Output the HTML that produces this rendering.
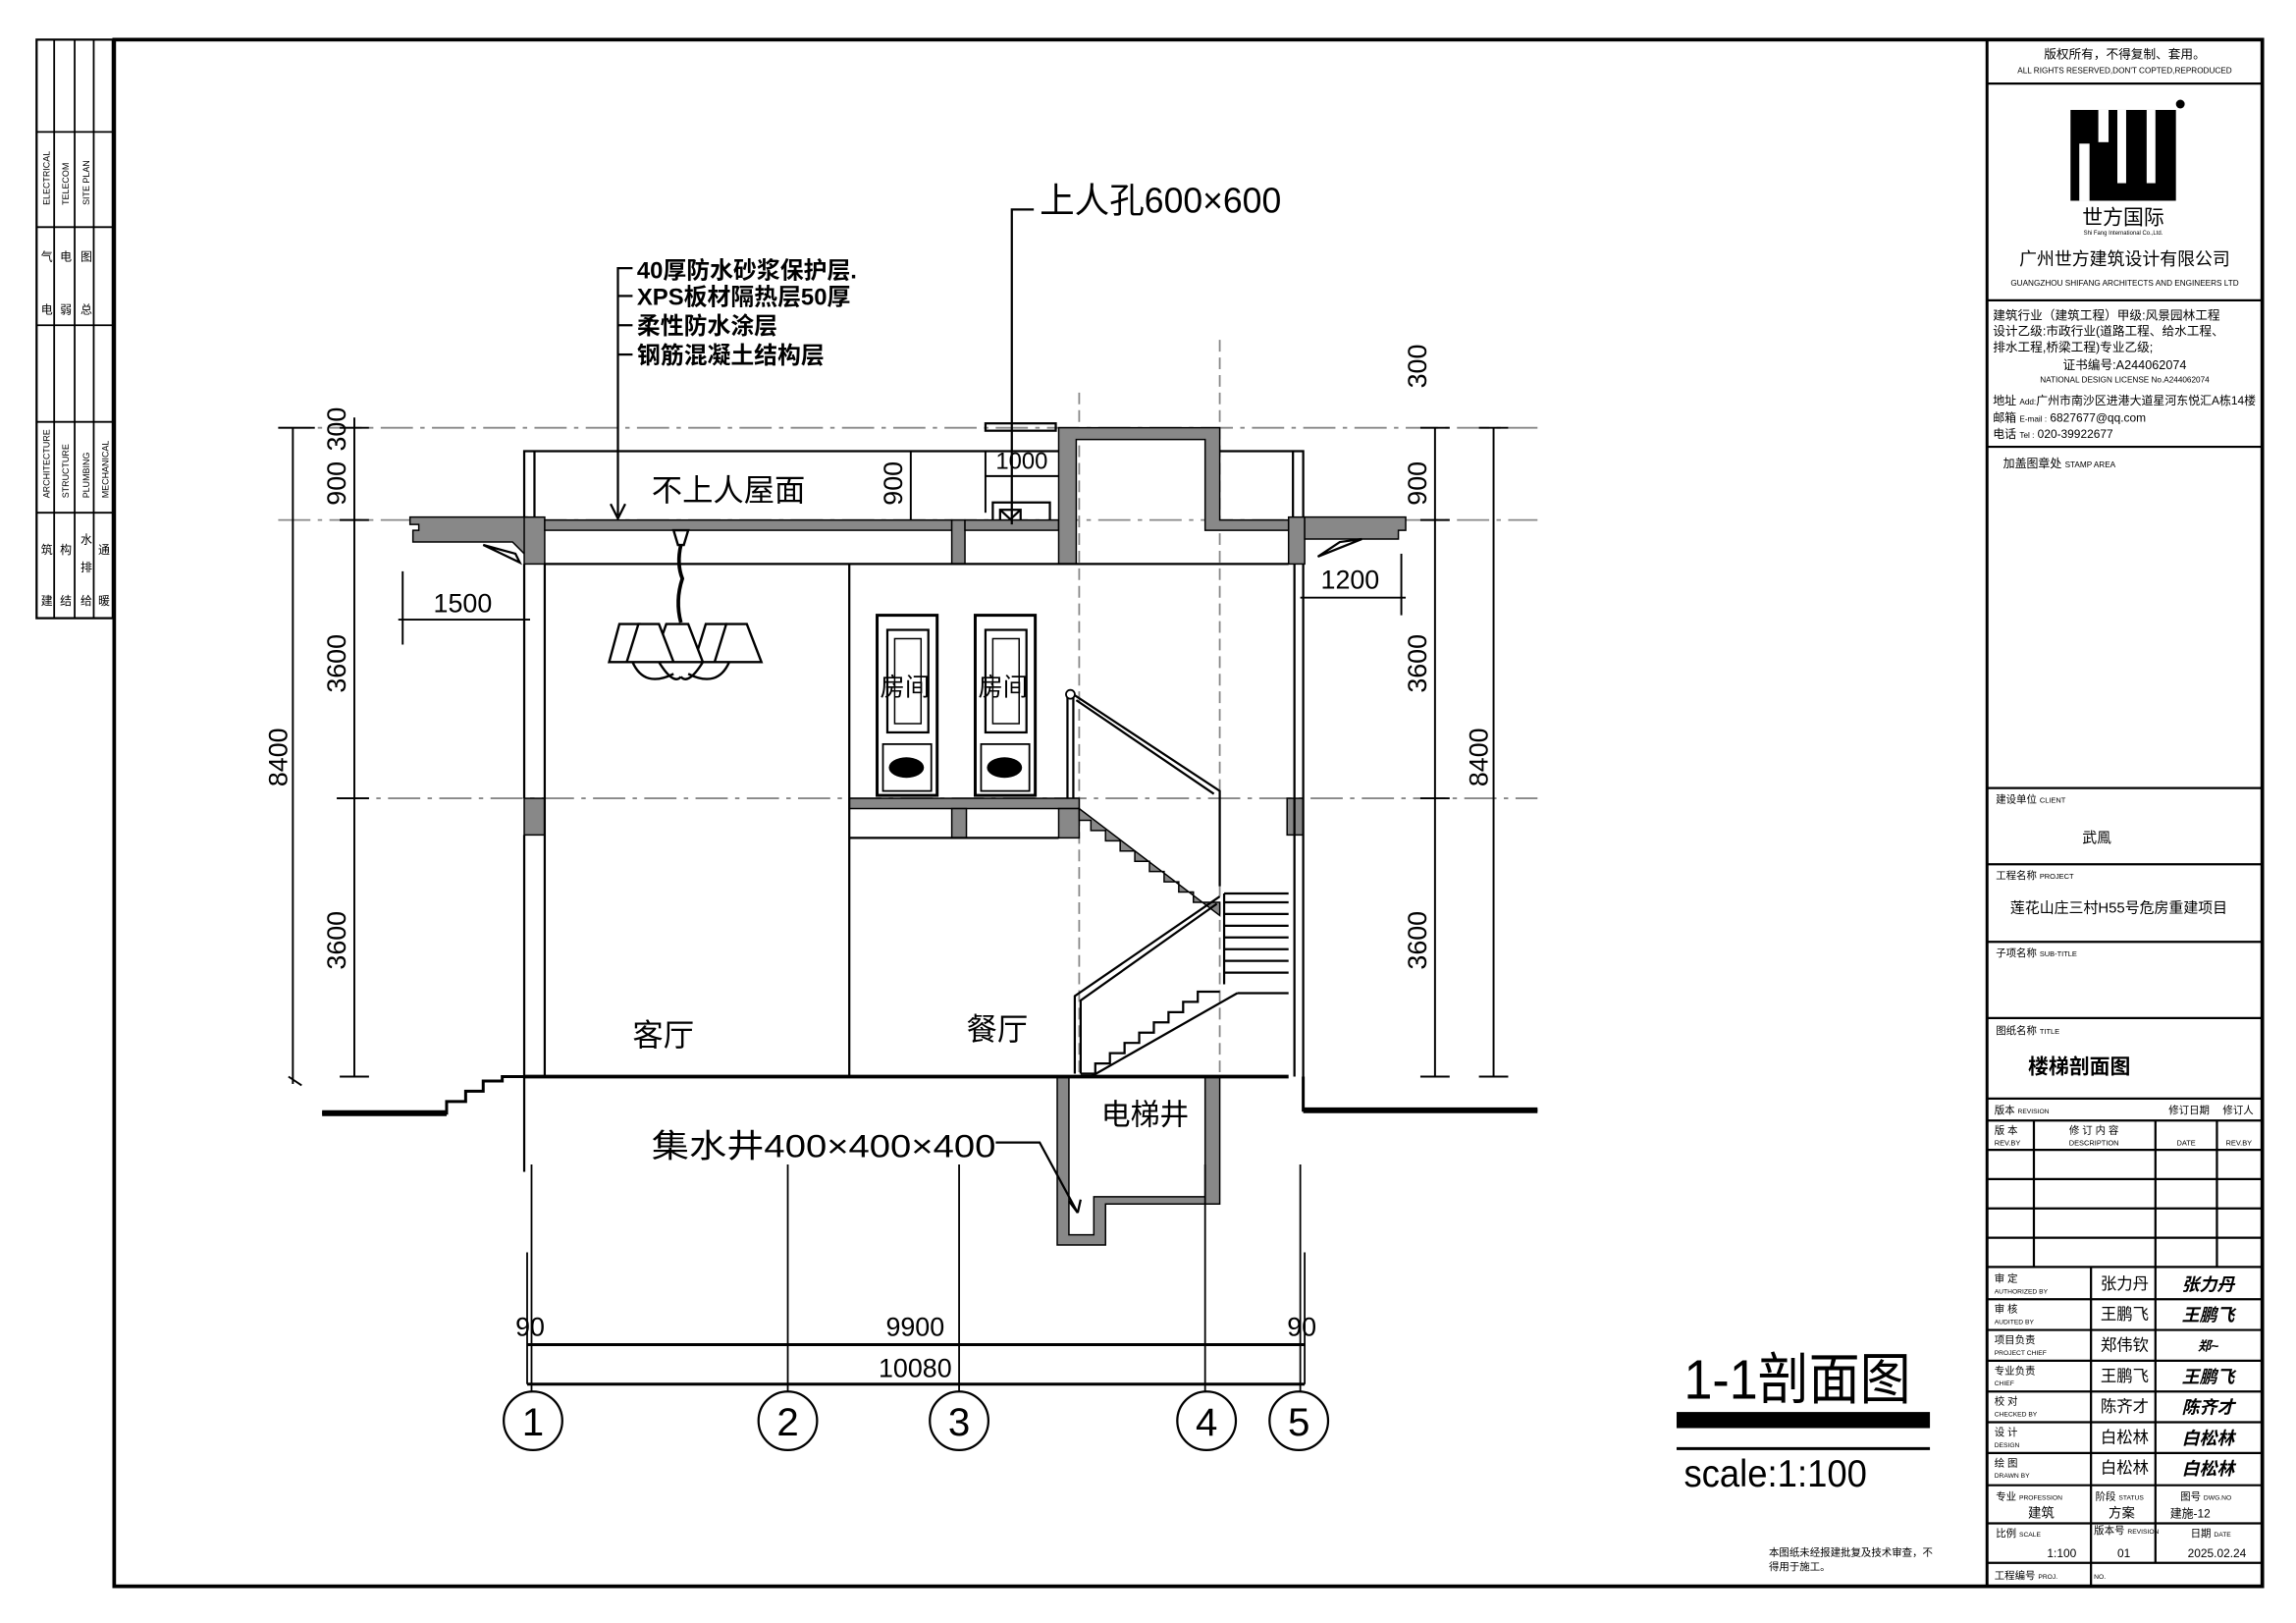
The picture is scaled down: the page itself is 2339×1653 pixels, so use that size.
<!DOCTYPE html>
<html><head><meta charset="utf-8"><style>
html,body{margin:0;padding:0;background:#fff;}
svg{display:block;}
text{font-family:"Liberation Sans","Noto Sans CJK SC",sans-serif;fill:#000;}
</style></head><body>
<svg width="2339" height="1653" viewBox="0 0 1568 1108" xmlns="http://www.w3.org/2000/svg">
<rect width="1568" height="1108" fill="#fff"/>
<!-- frame -->
<rect x="78" y="27" width="1467" height="1056" fill="none" stroke="#000" stroke-width="2.5"/>
<line x1="1357" y1="27" x2="1357" y2="1083" stroke="#000" stroke-width="2"/>
<!-- left strip -->
<g stroke="#000" stroke-width="1.2" fill="none">
<rect x="25" y="27" width="52" height="395" stroke-width="1.5"/>
<line x1="37" y1="27" x2="37" y2="422"/><line x1="51" y1="27" x2="51" y2="422"/><line x1="64" y1="27" x2="64" y2="422"/>
<line x1="25" y1="90" x2="77" y2="90"/><line x1="25" y1="155" x2="77" y2="155"/><line x1="25" y1="222" x2="77" y2="222"/><line x1="25" y1="288" x2="77" y2="288"/><line x1="25" y1="350" x2="77" y2="350"/>
</g>
<g font-size="6">
<text transform="translate(34,140) rotate(-90)">ELECTRICAL</text>
<text transform="translate(47,140) rotate(-90)">TELECOM</text>
<text transform="translate(61,140) rotate(-90)">SITE PLAN</text>
<text transform="translate(34,340) rotate(-90)">ARCHITECTURE</text>
<text transform="translate(47,340) rotate(-90)">STRUCTURE</text>
<text transform="translate(61,340) rotate(-90)">PLUMBING</text>
<text transform="translate(74,340) rotate(-90)">MECHANICAL</text>
</g>
<g font-size="8">
<text x="28" y="214">电</text><text x="28" y="178">气</text>
<text x="41" y="214">弱</text><text x="41" y="178">电</text>
<text x="55" y="214">总</text><text x="55" y="178">图</text>
<text x="28" y="413">建</text><text x="28" y="378">筑</text>
<text x="41" y="413">结</text><text x="41" y="378">构</text>
<text x="55" y="413">给</text><text x="55" y="390">排</text><text x="55" y="371">水</text>
<text x="67" y="413">暖</text><text x="67" y="378">通</text>
</g>

<!-- title block -->
<g stroke="#000" stroke-width="1.5" fill="none">
<line x1="1357" y1="57" x2="1545" y2="57"/>
<line x1="1357" y1="205" x2="1545" y2="205"/>
<line x1="1357" y1="305" x2="1545" y2="305"/>
<line x1="1357" y1="538" x2="1545" y2="538"/>
<line x1="1357" y1="590" x2="1545" y2="590"/>
<line x1="1357" y1="643" x2="1545" y2="643"/>
<line x1="1357" y1="695" x2="1545" y2="695"/>
<line x1="1357" y1="750" x2="1545" y2="750"/>
<line x1="1357" y1="765" x2="1545" y2="765"/>
<line x1="1357" y1="785" x2="1545" y2="785"/>
<line x1="1357" y1="805" x2="1545" y2="805"/>
<line x1="1357" y1="825" x2="1545" y2="825"/>
<line x1="1357" y1="845" x2="1545" y2="845"/>
<line x1="1357" y1="865" x2="1545" y2="865"/>
<line x1="1357" y1="887" x2="1545" y2="887"/>
<line x1="1357" y1="908" x2="1545" y2="908"/>
<line x1="1357" y1="929" x2="1545" y2="929"/>
<line x1="1357" y1="950" x2="1545" y2="950"/>
<line x1="1357" y1="971" x2="1545" y2="971"/>
<line x1="1357" y1="992" x2="1545" y2="992"/>
<line x1="1357" y1="1014" x2="1545" y2="1014"/>
<line x1="1357" y1="1040" x2="1545" y2="1040"/>
<line x1="1357" y1="1067" x2="1545" y2="1067"/>
<line x1="1389" y1="765" x2="1389" y2="865"/>
<line x1="1472" y1="765" x2="1472" y2="865"/>
<line x1="1514" y1="765" x2="1514" y2="865"/>
<line x1="1428" y1="865" x2="1428" y2="1083"/>
<line x1="1472" y1="865" x2="1472" y2="1067"/>
</g>
<text x="1451" y="40" font-size="8.5" text-anchor="middle">版权所有，不得复制、套用。</text>
<text x="1451" y="50" font-size="5.5" text-anchor="middle">ALL RIGHTS RESERVED,DON'T COPTED,REPRODUCED</text>
<!-- logo -->
<rect x="1414" y="75" width="72" height="62" fill="#000"/>
<rect x="1420" y="98" width="7" height="39" fill="#fff"/>
<rect x="1433" y="75" width="7" height="22" fill="#fff"/>
<rect x="1446" y="75" width="6" height="50" fill="#fff"/>
<rect x="1466" y="75" width="6" height="50" fill="#fff"/>
<circle cx="1489" cy="71" r="3" fill="#000"/>
<text x="1450" y="153" font-size="14" text-anchor="middle">世方国际</text>
<text x="1450" y="160" font-size="4" text-anchor="middle">Shi Fang International Co.,Ltd.</text>
<text x="1451" y="181" font-size="12" text-anchor="middle">广州世方建筑设计有限公司</text>
<text x="1451" y="195" font-size="5.5" text-anchor="middle">GUANGZHOU SHIFANG ARCHITECTS AND ENGINEERS LTD</text>
<g font-size="8.5">
<text x="1361" y="218">建筑行业（建筑工程）甲级:风景园林工程</text>
<text x="1361" y="229">设计乙级:市政行业(道路工程、给水工程、</text>
<text x="1361" y="240">排水工程,桥梁工程)专业乙级;</text>
<text x="1451" y="252" text-anchor="middle">证书编号:A244062074</text>
<text x="1451" y="261" font-size="5.5" text-anchor="middle">NATIONAL DESIGN LICENSE No.A244062074</text>
<text x="1361" y="276" font-size="8">地址 <tspan font-size="5.5">Add:</tspan>广州市南沙区进港大道星河东悦汇A栋14楼</text>
<text x="1361" y="288" font-size="8">邮箱 <tspan font-size="5.5">E-mail :</tspan> 6827677@qq.com</text>
<text x="1361" y="299" font-size="8">电话 <tspan font-size="5.5">Tel :</tspan> 020-39922677</text>
<text x="1368" y="319" font-size="8">加盖图章处 <tspan font-size="5.5">STAMP AREA</tspan></text>
<text x="1363" y="548" font-size="7">建设单位 <tspan font-size="5">CLIENT</tspan></text>
<text x="1432" y="575" font-size="10" text-anchor="middle">武鳯</text>
<text x="1363" y="600" font-size="7">工程名称 <tspan font-size="5">PROJECT</tspan></text>
<text x="1447" y="623" font-size="10" text-anchor="middle">莲花山庄三村H55号危房重建项目</text>
<text x="1363" y="653" font-size="7">子项名称 <tspan font-size="5">SUB-TITLE</tspan></text>
<text x="1363" y="706" font-size="7">图纸名称 <tspan font-size="5">TITLE</tspan></text>
<text x="1385" y="733" font-size="14" font-weight="bold">楼梯剖面图</text>
<text x="1362" y="760" font-size="7">版本 <tspan font-size="4.5">REVISION</tspan></text>
<text x="1481" y="760" font-size="7">修订日期</text><text x="1518" y="760" font-size="7">修订人</text>
<text x="1362" y="774" font-size="7">版 本</text><text x="1362" y="782" font-size="5">REV.BY</text>
<text x="1430" y="774" font-size="7" text-anchor="middle">修 订 内 容</text><text x="1430" y="782" font-size="5" text-anchor="middle">DESCRIPTION</text>
<text x="1493" y="782" font-size="5" text-anchor="middle">DATE</text><text x="1529" y="782" font-size="5" text-anchor="middle">REV.BY</text>
</g>
<g font-size="7">
<text x="1362" y="875">审 定</text><text x="1362" y="883" font-size="4.5">AUTHORIZED BY</text>
<text x="1362" y="896">审 核</text><text x="1362" y="904" font-size="4.5">AUDITED BY</text>
<text x="1362" y="917">项目负责</text><text x="1362" y="925" font-size="4.5">PROJECT CHIEF</text>
<text x="1362" y="938">专业负责</text><text x="1362" y="946" font-size="4.5">CHIEF</text>
<text x="1362" y="959">校 对</text><text x="1362" y="967" font-size="4.5">CHECKED BY</text>
<text x="1362" y="980">设 计</text><text x="1362" y="988" font-size="4.5">DESIGN</text>
<text x="1362" y="1001">绘 图</text><text x="1362" y="1009" font-size="4.5">DRAWN BY</text>
</g>
<g font-size="11" text-anchor="middle">
<text x="1451" y="880">张力丹</text><text x="1451" y="901">王鹏飞</text><text x="1451" y="922">郑伟钦</text><text x="1451" y="943">王鹏飞</text><text x="1451" y="964">陈齐才</text><text x="1451" y="985">白松林</text><text x="1451" y="1006">白松林</text>
</g>
<g font-size="12" font-style="italic" font-weight="bold" text-anchor="middle">
<text x="1508" y="881">张力丹</text><text x="1508" y="902">王鹏飞</text><text x="1508" y="922" font-size="9">郑~</text><text x="1508" y="944">王鹏飞</text><text x="1508" y="965">陈齐才</text><text x="1508" y="986">白松林</text><text x="1508" y="1007">白松林</text>
</g>
<g font-size="7">
<text x="1363" y="1024">专业 <tspan font-size="4.5">PROFESSION</tspan></text><text x="1385" y="1036" font-size="9">建筑</text>
<text x="1431" y="1024">阶段 <tspan font-size="4.5">STATUS</tspan></text><text x="1440" y="1036" font-size="9">方案</text>
<text x="1489" y="1024">图号 <tspan font-size="4.5">DWG.NO</tspan></text><text x="1482" y="1036" font-size="8">建施-12</text>
<text x="1363" y="1049">比例 <tspan font-size="4.5">SCALE</tspan></text><text x="1398" y="1063" font-size="8">1:100</text>
<text x="1430" y="1047">版本号 <tspan font-size="4.5">REVISION</tspan></text><text x="1446" y="1063" font-size="8">01</text>
<text x="1496" y="1049">日期 <tspan font-size="4.5">DATE</tspan></text><text x="1494" y="1063" font-size="8">2025.02.24</text>
<text x="1362" y="1078">工程编号 <tspan font-size="4.5">PROJ.</tspan></text><text x="1430" y="1078" font-size="4.5">NO.</text>
</g>
<text x="1208" y="1062" font-size="7">本图纸未经报建批复及技术审查，不</text>
<text x="1208" y="1072" font-size="7">得用于施工。</text>

<!-- ============ DRAWING ============ -->
<!-- level dash lines -->
<g stroke="#888" stroke-width="1.2" stroke-dasharray="22,5,3,5" fill="none">
<line x1="190" y1="292" x2="1050" y2="292"/>
<line x1="190" y1="355" x2="1050" y2="355"/>
<line x1="230" y1="545" x2="1050" y2="545"/>
</g>
<g stroke="#888" stroke-width="1.2" stroke-dasharray="8,4" fill="none">
<line x1="737" y1="268" x2="737" y2="735"/>
<line x1="833" y1="232" x2="833" y2="735"/>
</g>
<!-- left dims -->
<g stroke="#000" stroke-width="1.3" fill="none">
<line x1="200" y1="292" x2="200" y2="740"/>
<line x1="190" y1="292" x2="215" y2="292"/>
<line x1="197" y1="735" x2="206" y2="741"/>
<line x1="242" y1="285" x2="242" y2="735"/>
<line x1="232" y1="292" x2="252" y2="292"/><line x1="232" y1="355" x2="252" y2="355"/>
<line x1="230" y1="545" x2="252" y2="545"/><line x1="232" y1="735" x2="252" y2="735"/>
<line x1="980" y1="292" x2="980" y2="735"/>
<line x1="970" y1="292" x2="990" y2="292"/><line x1="970" y1="355" x2="990" y2="355"/>
<line x1="970" y1="545" x2="990" y2="545"/><line x1="970" y1="735" x2="990" y2="735"/>
<line x1="1020" y1="292" x2="1020" y2="735"/>
<line x1="1010" y1="292" x2="1030" y2="292"/><line x1="1010" y1="735" x2="1030" y2="735"/>
<!-- 1500 / 1200 -->
<line x1="275" y1="390" x2="275" y2="440"/><line x1="272" y1="423" x2="362" y2="423"/>
<line x1="957" y1="378" x2="957" y2="420"/><line x1="888" y1="408" x2="960" y2="408"/>
<!-- 900 roof -->
<line x1="622" y1="308" x2="622" y2="357"/><line x1="615" y1="308" x2="628" y2="308"/>
<line x1="673" y1="308" x2="673" y2="350"/><line x1="673" y1="325" x2="725" y2="325"/>
</g>
<g font-size="18">
<text transform="translate(236,345) rotate(-90)">900</text>
<text transform="translate(236,308) rotate(-90)">300</text>
<text transform="translate(236,473) rotate(-90)">3600</text>
<text transform="translate(236,662) rotate(-90)">3600</text>
<text transform="translate(196,537) rotate(-90)">8400</text>
<text transform="translate(974,265) rotate(-90)">300</text>
<text transform="translate(974,345) rotate(-90)">900</text>
<text transform="translate(974,473) rotate(-90)">3600</text>
<text transform="translate(974,662) rotate(-90)">3600</text>
<text transform="translate(1016,537) rotate(-90)">8400</text>
<text transform="translate(616,345) rotate(-90)">900</text>
<text x="296" y="418">1500</text>
<text x="902" y="402">1200</text>
<text x="680" y="320" font-size="16">1000</text>
</g>

<!-- parapet outline -->
<g stroke="#000" stroke-width="1.5" fill="none">
<path d="M358,355 V308 H723"/>
<line x1="365" y1="308" x2="365" y2="355"/>
<path d="M833,308 H890 V355"/>
<line x1="883" y1="308" x2="883" y2="355"/>
<rect x="673" y="289" width="48" height="5"/>
<path d="M678,355 V343 H717 V355"/>
<rect x="683" y="348" width="14" height="13"/>
<path d="M683,348 L697,361 M697,348 L683,361"/>
</g>
<!-- gray structure -->
<g fill="#888" stroke="#000" stroke-width="1">
<path d="M280,353 H360 V380 L350,370 H282 V362 H286 V358 H280Z"/>
<rect x="358" y="353" width="14" height="32"/>
<rect x="372" y="355" width="278" height="7"/>
<rect x="650" y="355" width="9" height="30"/>
<rect x="659" y="355" width="64" height="7"/>
<path d="M723,292 H833 V355 H880 V362 H823 V300 H735 V385 H723Z"/>
<rect x="880" y="353" width="11" height="32"/>
<path d="M891,353 H960 V362 H955 V368 H891Z"/>
<rect x="358" y="545" width="14" height="25"/>
<rect x="580" y="545" width="157" height="7"/>
<rect x="650" y="552" width="10" height="20"/>
<rect x="723" y="552" width="14" height="20"/>
<rect x="879" y="545" width="11" height="25"/>
<!-- upper flight -->
<path d="M737,552 V560 H745 V567 H755 V574 H765 V581 H775 V588 H785 V595 H795 V602 H805 V609 H815 V616 H833 V625Z"/>
<!-- elevator pit -->
<path d="M722,735 H730 V843 H747 V817 H823 V735 H833 V822 H755 V850 H722Z"/>
</g>
<!-- brackets -->
<path d="M330,372 L352,378 L355,384 Z" fill="none" stroke="#000" stroke-width="1.5"/>
<path d="M900,380 L915,370 L930,368 Z" fill="none" stroke="#000" stroke-width="1.5"/>
<g stroke="#000" stroke-width="1.5" fill="none">
<line x1="372" y1="385" x2="880" y2="385"/>
<line x1="372" y1="385" x2="372" y2="735"/>
<line x1="358" y1="385" x2="358" y2="545"/>
<line x1="358" y1="570" x2="358" y2="800"/>
<line x1="580" y1="385" x2="580" y2="735"/>
<line x1="580" y1="572" x2="723" y2="572"/>
<line x1="884" y1="385" x2="884" y2="735"/>
<line x1="890" y1="385" x2="890" y2="758"/>
<!-- ground -->
<line x1="358" y1="735" x2="880" y2="735" stroke-width="2.5"/>
<path d="M220,760 H305 V752 H318 V745 H330 V738 H343 V735 H358" stroke-width="2"/>
<line x1="220" y1="760" x2="305" y2="760" stroke-width="4"/>
<path d="M890,735 V758 H1050" stroke-width="2"/>
<line x1="890" y1="758" x2="1050" y2="758" stroke-width="4"/>
<!-- lower flight -->
<path d="M738,733 H748 V726 H758 V719 H768 V712 H778 V705 H788 V698 H798 V691 H808 V684 H818 V677 H833"/>
<line x1="745" y1="735" x2="845" y2="678"/>
<line x1="845" y1="678" x2="880" y2="678"/>
<!-- landing steps -->
<line x1="836" y1="610" x2="880" y2="610"/><line x1="836" y1="616" x2="880" y2="616"/>
<line x1="836" y1="624" x2="880" y2="624"/><line x1="836" y1="632" x2="880" y2="632"/>
<line x1="836" y1="640" x2="880" y2="640"/><line x1="836" y1="648" x2="880" y2="648"/>
<line x1="836" y1="656" x2="880" y2="656"/><line x1="836" y1="664" x2="880" y2="664"/>
<line x1="836" y1="610" x2="836" y2="672"/>
<!-- handrails -->
<path d="M729,476 V545 M733,476 V545"/>
<path d="M733,474 L833,540 V605 M735,478 L829,542"/>
<path d="M833,612 L734,680 V733 M831,617 L738,683 V733"/>
</g>
<circle cx="731" cy="474" r="3" fill="#fff" stroke="#000" stroke-width="1.2"/>
<!-- chandelier -->
<g stroke="#000" stroke-width="1.6" fill="#fff">
<path d="M460,362 H470 L467,372 H463Z"/>
<path d="M465,372 Q462,385 466,395 Q461,410 465,425" fill="none" stroke-width="2.5"/>
<path d="M423,426 H437 L447,452 H416Z"/>
<path d="M482,426 H496 L505,452 H474Z"/>
<path d="M496,426 H510 L520,452 H488Z"/>
<path d="M455,426 H470 L480,452 H446Z"/>
<path d="M436,426 H450 L460,452 H428Z"/>
<path d="M432,452 Q440,470 460,460 M498,452 Q490,470 470,460 M450,452 Q460,468 465,462 M480,452 Q470,468 465,462" fill="none"/>
</g>
<!-- doors -->
<g stroke="#000" stroke-width="2" fill="#fff">
<rect x="599" y="420" width="41" height="123"/>
<rect x="666" y="420" width="41" height="123"/>
<rect x="606" y="430" width="28" height="70" stroke-width="1.5"/>
<rect x="673" y="430" width="28" height="70" stroke-width="1.5"/>
<rect x="611" y="436" width="18" height="58" stroke-width="1"/>
<rect x="678" y="436" width="18" height="58" stroke-width="1"/>
<rect x="603" y="508" width="33" height="32" stroke-width="1.2"/>
<rect x="670" y="508" width="33" height="32" stroke-width="1.2"/>
</g>
<ellipse cx="619" cy="524" rx="12" ry="7" fill="#000"/>
<ellipse cx="686" cy="524" rx="12" ry="7" fill="#000"/>
<text x="601" y="475" font-size="17">房间</text>
<text x="668" y="475" font-size="17">房间</text>

<!-- labels -->
<text x="445" y="342" font-size="21">不上人屋面</text>
<text x="432" y="714" font-size="21">客厅</text>
<text x="660" y="710" font-size="21">餐厅</text>
<text x="752" y="768" font-size="20">电梯井</text>
<text x="445" y="790" font-size="22" textLength="235" lengthAdjust="spacingAndGlyphs">集水井400×400×400</text>
<path d="M680,780 H710 L736,828" fill="none" stroke="#000" stroke-width="1.5"/>
<path d="M736,828 L730,820 M736,828 L738,819" stroke="#000" stroke-width="1.5"/>
<text x="710" y="145" font-size="24" textLength="165" lengthAdjust="spacingAndGlyphs">上人孔600×600</text>
<path d="M706,143 H691 V358" fill="none" stroke="#000" stroke-width="1.5"/>
<g font-size="16" font-weight="bold">
<text x="435" y="190">40厚防水砂浆保护层.</text>
<text x="435" y="208">XPS板材隔热层50厚</text>
<text x="435" y="228">柔性防水涂层</text>
<text x="435" y="248">钢筋混凝土结构层</text>
</g>
<g stroke="#000" stroke-width="1.5" fill="none">
<path d="M432,183 H422 V352"/>
<line x1="422" y1="202" x2="432" y2="202"/>
<line x1="422" y1="222" x2="432" y2="222"/>
<line x1="422" y1="242" x2="432" y2="242"/>
<path d="M417,344 L422,354 L427,344"/>
</g>

<!-- axes -->
<g stroke="#000" stroke-width="1.2" fill="none">
<line x1="363" y1="795" x2="363" y2="950"/>
<line x1="360" y1="855" x2="360" y2="945"/>
<line x1="538" y1="795" x2="538" y2="950"/>
<line x1="655" y1="795" x2="655" y2="950"/>
<line x1="823" y1="795" x2="823" y2="950"/>
<line x1="888" y1="795" x2="888" y2="950"/>
<line x1="891" y1="855" x2="891" y2="945"/>
<line x1="360" y1="918" x2="891" y2="918" stroke-width="2"/>
<line x1="360" y1="945" x2="891" y2="945" stroke-width="2"/>
<circle cx="364" cy="970" r="20" stroke-width="1.5"/>
<circle cx="538" cy="970" r="20" stroke-width="1.5"/>
<circle cx="655" cy="970" r="20" stroke-width="1.5"/>
<circle cx="824" cy="970" r="20" stroke-width="1.5"/>
<circle cx="887" cy="970" r="20" stroke-width="1.5"/>
</g>
<g font-size="27" text-anchor="middle">
<text x="364" y="980">1</text><text x="538" y="980">2</text><text x="655" y="980">3</text><text x="824" y="980">4</text><text x="887" y="980">5</text>
</g>
<g font-size="18" text-anchor="middle">
<text x="362" y="912">90</text><text x="625" y="912">9900</text><text x="625" y="940">10080</text><text x="889" y="912">90</text>
</g>
<text x="1150" y="955" font-size="38" textLength="155" lengthAdjust="spacingAndGlyphs">1-1剖面图</text>
<rect x="1145" y="964" width="173" height="11" fill="#000"/>
<line x1="1145" y1="989" x2="1318" y2="989" stroke="#000" stroke-width="2"/>
<text x="1150" y="1015" font-size="26" textLength="125" lengthAdjust="spacingAndGlyphs">scale:1:100</text>
</svg>
</body></html>
